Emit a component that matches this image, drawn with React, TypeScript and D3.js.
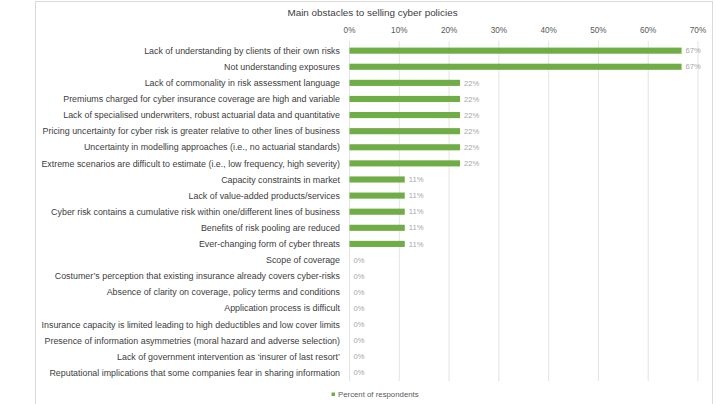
import React from "react";
import * as d3 from "d3";

const title = "Main obstacles to selling cyber policies";

const categories = [
  "Lack of understanding by clients of their own risks",
  "Not understanding exposures",
  "Lack of commonality in risk assessment language",
  "Premiums charged for cyber insurance coverage are high and variable",
  "Lack of specialised underwriters, robust actuarial data and quantitative",
  "Pricing uncertainty for cyber risk is greater relative to other lines of business",
  "Uncertainty in modelling approaches (i.e., no actuarial standards)",
  "Extreme scenarios are difficult to estimate (i.e., low frequency, high severity)",
  "Capacity constraints in market",
  "Lack of value-added products/services",
  "Cyber risk contains a cumulative risk within one/different lines of business",
  "Benefits of risk pooling are reduced",
  "Ever-changing form of cyber threats",
  "Scope of coverage",
  "Costumer\u2019s perception that existing insurance already covers cyber-risks",
  "Absence of clarity on coverage, policy terms and conditions",
  "Application process is difficult",
  "Insurance capacity is limited leading to high deductibles and low cover limits",
  "Presence of information asymmetries (moral hazard and adverse selection)",
  "Lack of government intervention as \u2018insurer of last resort\u2019",
  "Reputational implications that some companies fear in sharing information",
];

// share of respondents (fraction)
const values = [
  0.667, 0.667, 0.222, 0.222, 0.222, 0.222, 0.222, 0.222, 0.111, 0.111, 0.111,
  0.111, 0.111, 0, 0, 0, 0, 0, 0, 0, 0,
];

const xTicks = [0, 0.1, 0.2, 0.3, 0.4, 0.5, 0.6, 0.7];
const seriesName = "Percent of respondents";

const W = 716;
const H = 404;
const FONT = "'Liberation Sans', Arial, sans-serif";
const GREEN = "#70ad47";

export default function App() {
  const x = d3.scaleLinear().domain([0, 0.7]).range([349.5, 698]);
  const y = d3
    .scaleBand<string>()
    .domain(categories)
    .range([42.6, 380.8])
    .paddingInner(0.62)
    .paddingOuter(0.31);
  const fmt = d3.format(".0%");

  return (
    <div style={{ position: "fixed", left: 0, top: 0 }}>
      <svg width={W} height={H} style={{ display: "block", background: "#fff" }}>
        <rect x={35.5} y={1.5} width={677} height={410} fill="#fff" stroke="#d9d9d9" />
        <text x={372.5} y={16} textAnchor="middle" fontFamily={FONT} fontSize={9.9} fill="#404040">
          {title}
        </text>
        {xTicks.map((t) => (
          <g key={t}>
            <line x1={x(t)} x2={x(t)} y1={41} y2={381} stroke="#e3e3e3" strokeWidth={1} />
            <text x={x(t)} y={33} textAnchor="middle" fontFamily={FONT} fontSize={8.2} fill="#595959">
              {fmt(t)}
            </text>
          </g>
        ))}
        {categories.map((c, i) => {
          const yc = (y(c) as number) + y.bandwidth() / 2;
          return (
            <g key={c}>
              <text x={340} y={yc} dy="0.35em" textAnchor="end" fontFamily={FONT} fontSize={8.9} fill="#404040">
                {c}
              </text>
              {values[i] > 0 && (
                <rect x={x(0)} y={y(c) as number} width={x(values[i]) - x(0)} height={y.bandwidth()} fill={GREEN} />
              )}
              <text x={x(values[i]) + 4} y={yc} dy="0.35em" fontFamily={FONT} fontSize={7.6} fill="#a6a6a6">
                {fmt(values[i])}
              </text>
            </g>
          );
        })}
        <rect x={331.5} y={392.5} width={3.5} height={3.5} fill={GREEN} />
        <text x={338} y={394.5} dy="0.35em" fontFamily={FONT} fontSize={7.8} fill="#595959">
          {seriesName}
        </text>
      </svg>
    </div>
  );
}
